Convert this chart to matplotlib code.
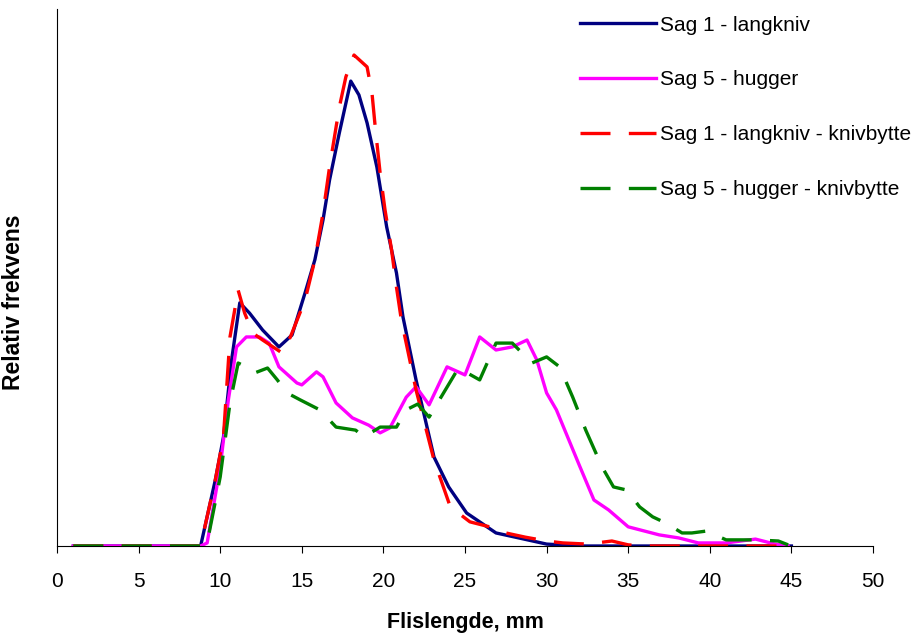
import matplotlib.pyplot as plt

# Flislengde (mm) og relativ frekvens, lest av figuren
sag1_x = [1, 8, 8.8, 9.7, 10.2, 10.7, 11.2, 11.8, 12.6, 13.6, 14.4, 15.2, 15.8, 16.3,
          16.7, 17.3, 18.0, 18.5, 19.0, 19.6, 20.2, 20.8, 21.2, 22, 23.1, 24, 25.1,
          26.9, 28.3, 30, 32, 45]
sag1_y = [0, 0, 0, 1.72, 2.84, 4.85, 6.34, 6.07, 5.63, 5.19, 5.50, 6.60, 7.46, 8.50,
          9.54, 10.77, 12.12, 11.76, 11.03, 9.88, 8.32, 7.12, 5.97, 4.33, 2.32, 1.54, 0.86,
          0.34, 0.21, 0.05, 0, 0]

sag5_x = [1, 8, 8.8, 9.2, 10, 10.5, 11, 11.6, 12.4, 13.0, 13.6, 14.7, 15.0, 15.9, 16.3,
          17.1, 18.1, 19.1, 19.8, 20.4, 21.4, 22.0, 22.8, 23.9, 25.0, 25.9, 26.9, 27.9,
          28.8, 29.4, 30.0, 30.6, 32.0, 32.9, 33.8, 35.0, 36.9, 38.1, 39.3, 41, 42.8,
          44.0, 44.8]
sag5_y = [0, 0, 0, 0.08, 2.06, 3.81, 5.19, 5.45, 5.45, 5.29, 4.67, 4.25, 4.20, 4.54, 4.41,
          3.73, 3.34, 3.15, 2.95, 3.08, 3.88, 4.15, 3.68, 4.67, 4.46, 5.45, 5.11, 5.19,
          5.37, 4.85, 3.99, 3.55, 2.11, 1.20, 0.94, 0.50, 0.29, 0.21, 0.08, 0.08, 0.18,
          0.05, 0]

sag1k_x = [1, 8, 8.8, 9.7, 10.2, 10.6, 11.1, 11.5, 12.0, 12.6, 13.8, 14.3, 15.2, 15.8,
           16.3, 16.7, 17.3, 17.7, 18.2, 19.0, 19.3, 19.5, 19.8, 20.1, 20.5, 20.8, 21.1,
           22, 23.1, 24.1, 25.3, 26.5, 27.5, 28.7, 30, 31, 32.5, 34, 35, 36, 45]
sag1k_y = [0, 0, 0, 1.72, 2.84, 5.45, 6.67, 6.07, 5.55, 5.37, 5.03, 5.45, 6.41, 7.46,
           8.68, 9.88, 11.44, 12.23, 12.80, 12.49, 11.81, 10.92, 9.72, 8.76, 7.72, 6.75, 5.89,
           4.07, 2.24, 1.02, 0.63, 0.50, 0.34, 0.23, 0.13, 0.08, 0.05, 0.13, 0.03, 0, 0]

sag5k_x = [1, 8, 8.8, 9.2, 10.0, 10.6, 11.1, 11.6, 12.1, 12.9, 13.5, 14.1, 14.9, 16.1,
           17.1, 18.3, 18.8, 19.8, 20.8, 21.4, 22.1, 22.8, 24.6, 25.9, 26.9, 27.9, 29.1,
           30.0, 30.8, 31.6, 32.4, 33.4, 34.1, 34.9, 35.7, 36.5, 37.3, 38.3, 38.9, 39.8,
           41.0, 42.8, 44.2, 44.8]
sag5k_y = [0, 0, 0, 0.08, 1.80, 3.73, 4.77, 4.67, 4.51, 4.64, 4.33, 3.99, 3.81, 3.55,
           3.10, 3.02, 2.84, 3.10, 3.10, 3.55, 3.70, 3.36, 4.64, 4.33, 5.29, 5.29, 4.77,
           4.93, 4.67, 3.88, 3.02, 2.06, 1.54, 1.46, 1.02, 0.76, 0.60, 0.34, 0.34, 0.39,
           0.16, 0.16, 0.13, 0.03]

plt.rcParams['font.family'] = ['Liberation Sans', 'DejaVu Sans']

fig = plt.figure(figsize=(9.24, 6.39), dpi=100)
ax = fig.add_axes([57/924, 93/639, 816/924, 537/639])

dash = (0, (9, 5.5))
ax.plot(sag1_x, sag1_y, color='#000080', lw=2.4, label='Sag 1 - langkniv')
ax.plot(sag5_x, sag5_y, color='#FF00FF', lw=2.4, label='Sag 5 - hugger')
ax.plot(sag1k_x, sag1k_y, color='#FF0000', lw=2.4, linestyle=dash,
        label='Sag 1 - langkniv - knivbytte')
ax.plot(sag5k_x, sag5k_y, color='#008000', lw=2.4, linestyle=dash,
        label='Sag 5 - hugger - knivbytte')

ax.set_xlim(0, 50)
ax.set_ylim(0, 14)
ax.set_xticks(range(0, 51, 5))
ax.set_yticks([])
ax.tick_params(axis='x', direction='out', length=5, labelsize=15, pad=14)
for s in ['top', 'right']:
    ax.spines[s].set_visible(False)

ax.set_xlabel('Flislengde, mm', fontsize=15.5, fontweight='bold', labelpad=15)
ax.set_ylabel('Relativ frekvens', fontsize=16.5, fontweight='bold')
ax.yaxis.set_label_coords(-0.039, 0.454)

ax.legend(loc='upper left', bbox_to_anchor=(561/924, 1.005), bbox_transform=fig.transFigure,
          frameon=False, fontsize=15, handlelength=3.65, labelspacing=1.72,
          handletextpad=0.2)

fig.savefig('out.png', dpi=100)
